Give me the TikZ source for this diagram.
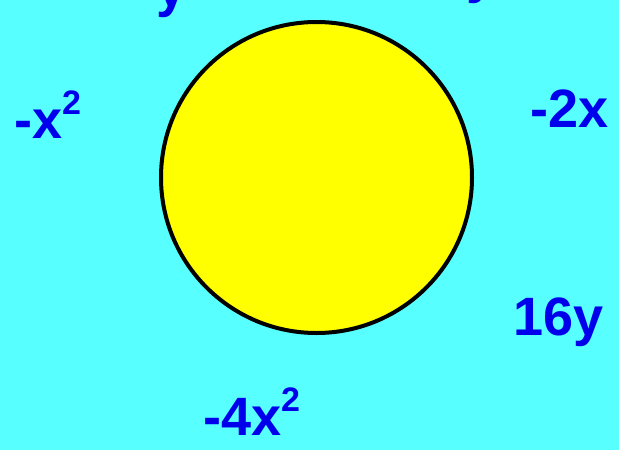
\documentclass[tikz,border=0pt]{standalone}
\usepackage{fontspec}
\setmainfont{Liberation Sans}
\definecolor{bgc}{RGB}{88,255,255}
\definecolor{txt}{RGB}{0,0,235}
\definecolor{sun}{RGB}{255,255,0}
\newcommand{\sqr}{\raisebox{0.44em}{\fontsize{34}{34}\selectfont 2}}
\begin{document}
\begin{tikzpicture}[x=1pt,y=-1pt,
  term/.style={anchor=base west,inner sep=0pt,text=txt,font=\fontsize{54}{54}\selectfont\bfseries}]
\useasboundingbox (0,0) rectangle (619,450);
\clip (0,0) rectangle (619,450);
\fill[bgc] (0,0) rectangle (619,450);
\node[circle,draw=black,fill=sun,line width=4pt,minimum size=311pt,inner sep=0pt] (c) at (316.5,177.5) {};
\node[term] (t1) at (14,138) {-x\sqr};
\node[term] (t2) at (530,127) {-2x};
\node[term] (t3) at (513,335) {16y};
\node[term] (t4) at (203,435) {-4x\sqr};
\node[term] (t5) at (156,6) {y};
\node[term] (t6) at (466,-8) {y};
\end{tikzpicture}
\end{document}
